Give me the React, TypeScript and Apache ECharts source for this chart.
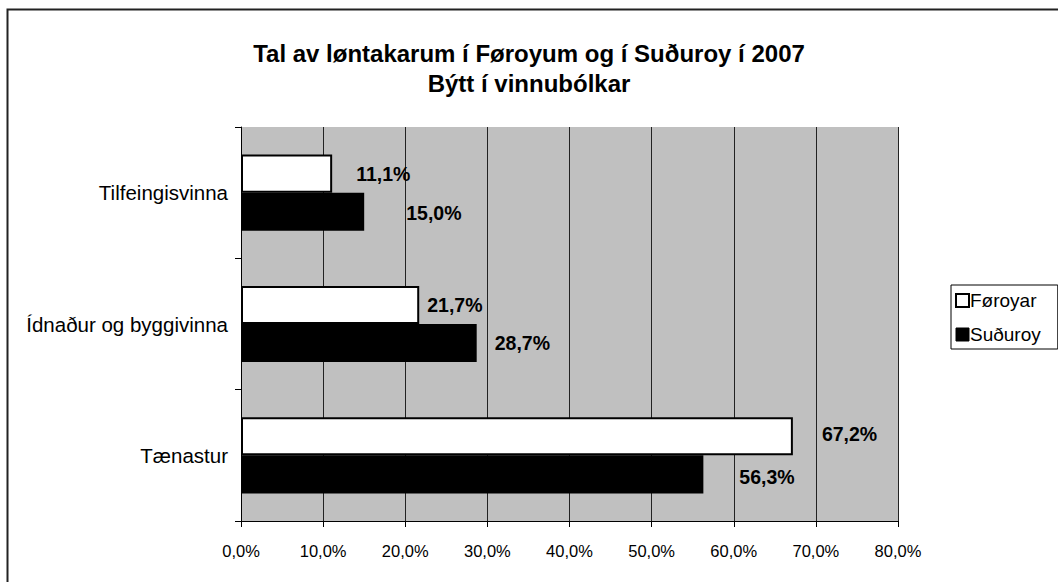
import React, { useEffect, useRef } from "react";
import * as echarts from "echarts";

const categories = ["Tilfeingisvinna", "Ídnaður og byggivinna", "Tænastur"];
const seriesNames = ["Føroyar", "Suðuroy"];
const foroyarValues = [11.1, 21.7, 67.2];
const suduroyValues = [15.0, 28.7, 56.3];
const titleLines = ["Tal av løntakarum í Føroyum og í Suðuroy í 2007", "Býtt í vinnubólkar"];

const foroyarLabelOffsets = [[24, 0], [8, 0], [29, -2]];
const suduroyLabelOffsets = [[42, 1], [18, 0], [36, 3]];

const FONT = "'Liberation Sans', Arial, sans-serif";

const fmt = (v: number) => v.toFixed(1).replace(".", ",") + "%";

export default function App() {
  const ref = useRef<HTMLDivElement>(null);
  useEffect(() => {
    document.body.style.margin = "0";
    const chart = echarts.init(ref.current!, null, { renderer: "svg" });
    const mk = (vals: number[], offs: number[][]) =>
      vals.map((v, i) => ({
        value: v,
        label: { offset: offs[i] },
      }));
    chart.setOption({
      animation: false,
      backgroundColor: "#ffffff",
      textStyle: { fontFamily: FONT },
      title: {
        text: titleLines.join("\n"),
        left: "center",
        top: 33,
        textStyle: {
          fontFamily: FONT,
          fontSize: 24,
          fontWeight: "bold",
          color: "#000",
          lineHeight: 30,
        },
      },
      graphic: [
        {
          type: "rect",
          shape: { x: 7.5, y: 9.5, width: 1200, height: 700 },
          style: { fill: "none", stroke: "#222", lineWidth: 2 },
          silent: true,
          z: 100,
        },
      ],
      legend: {
        orient: "vertical",
        left: 951,
        top: 285,
        padding: [6, 17, 5, 4],
        itemGap: 15,
        itemWidth: 13,
        itemHeight: 13,
        borderColor: "#000",
        borderWidth: 1,
        textStyle: { fontFamily: FONT, fontSize: 19, color: "#000", padding: [0, 0, 0, -4] },
        data: [
          { name: seriesNames[0], icon: "rect", itemStyle: { color: "#fff", borderColor: "#000", borderWidth: 2 } },
          { name: seriesNames[1], icon: "rect", itemStyle: { color: "#000", borderColor: "#000", borderWidth: 1 } },
        ],
      },
      grid: { left: 241, top: 127, width: 657, height: 394, backgroundColor: "#c0c0c0", show: true, borderWidth: 0 },
      xAxis: {
        type: "value",
        min: 0,
        max: 80,
        interval: 10,
        axisLine: { show: true, lineStyle: { color: "#000", width: 1 } },
        axisTick: { show: true, length: 6, lineStyle: { color: "#000" } },
        axisLabel: {
          formatter: (v: number) => fmt(v),
          fontFamily: FONT,
          fontSize: 16.5,
          color: "#000",
          margin: 21,
        },
        splitLine: { show: true, lineStyle: { color: "#222", width: 1 } },
      },
      yAxis: {
        type: "category",
        inverse: true,
        data: categories,
        axisLine: { show: true, lineStyle: { color: "#000", width: 1 } },
        axisTick: { show: true, length: 6, lineStyle: { color: "#000" } },
        axisLabel: { fontFamily: FONT, fontSize: 20.5, color: "#000", margin: 13 },
      },
      series: [
        {
          name: seriesNames[0],
          type: "bar",
          data: mk(foroyarValues, foroyarLabelOffsets),
          barGap: "0%",
          barCategoryGap: "42%",
          itemStyle: { color: "#fff", borderColor: "#000", borderWidth: 2 },
          label: {
            show: true,
            position: "right",
            distance: 0,
            formatter: (p: any) => fmt(p.value),
            fontFamily: FONT,
            fontSize: 19.5,
            fontWeight: "bold",
            color: "#000",
          },
        },
        {
          name: seriesNames[1],
          type: "bar",
          data: mk(suduroyValues, suduroyLabelOffsets),
          barGap: "0%",
          barCategoryGap: "42%",
          itemStyle: { color: "#000" },
          label: {
            show: true,
            position: "right",
            distance: 0,
            formatter: (p: any) => fmt(p.value),
            fontFamily: FONT,
            fontSize: 19.5,
            fontWeight: "bold",
            color: "#000",
          },
        },
      ],
    });
    return () => chart.dispose();
  }, []);
  return <div ref={ref} style={{ width: 1058, height: 582 }} />;
}
